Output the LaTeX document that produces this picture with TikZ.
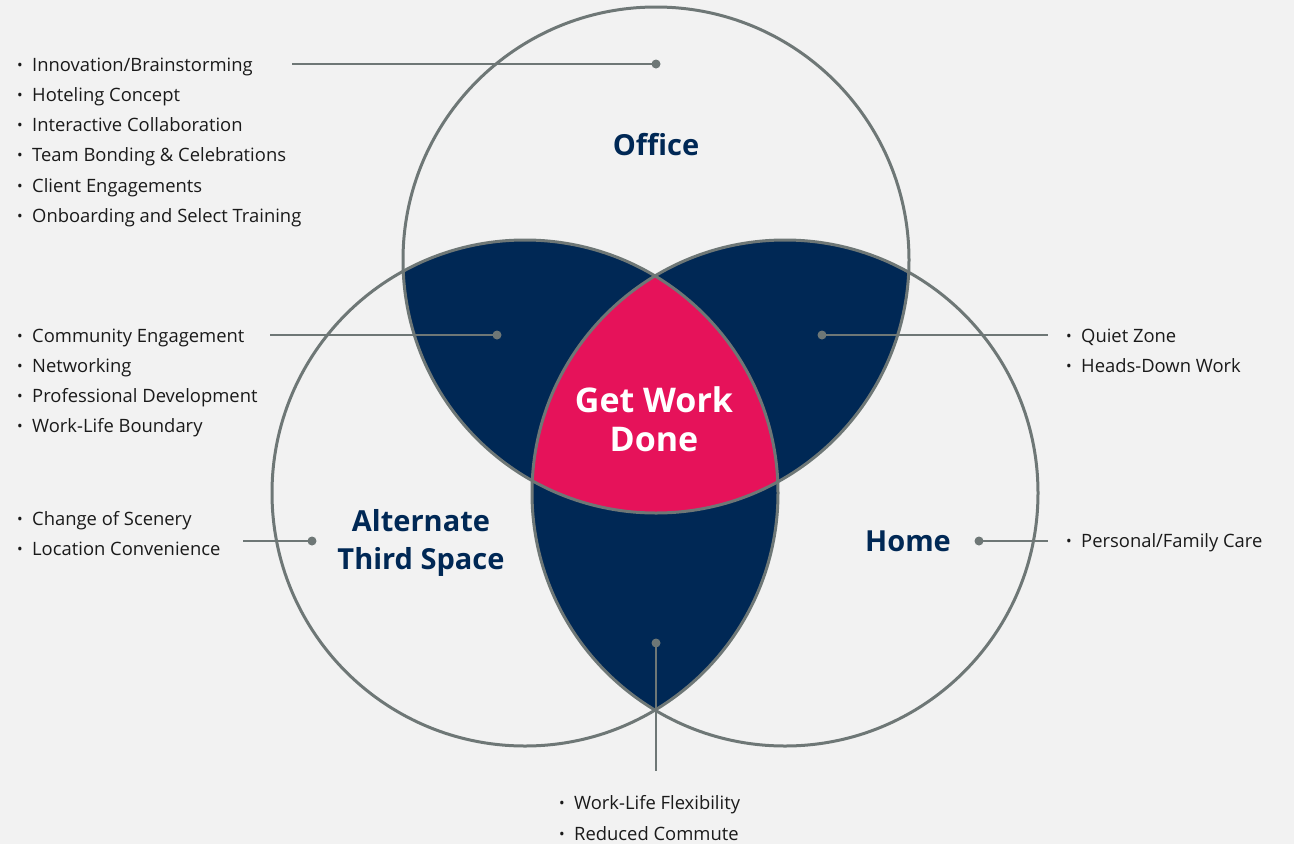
\documentclass[tikz,border=0pt]{standalone}
\usepackage{fontspec}
\setmainfont{Open Sans}
\definecolor{bg}{HTML}{F2F2F2}
\definecolor{navy}{HTML}{002855}
\definecolor{hot}{HTML}{E6125A}
\definecolor{ring}{HTML}{6E7776}
\definecolor{txt}{HTML}{1A1A1A}
\newcommand\blt{\makebox[15pt][l]{\fontsize{15}{15}\selectfont\raisebox{1pt}{•}}}
\begin{document}
\begin{tikzpicture}[x=1pt,y=-1pt,
  item/.style={anchor=base west, inner sep=0pt, text=txt, font=\fontsize{18.4}{20}\selectfont},
  head/.style={anchor=base, inner sep=0pt, text=navy, font=\fontsize{29}{30}\selectfont\bfseries},
  core/.style={anchor=base, inner sep=0pt, text=white, font=\fontsize{34}{36}\selectfont\bfseries},
  circ/.style={draw=ring, line width=3pt},
  lead/.style={draw=ring, line width=2pt},
  dot/.style={circle, fill=ring, inner sep=0pt, minimum size=9pt}]
\fill[bg] (0,0) rectangle (1294,844);
\useasboundingbox (0,0) rectangle (1294,844);
\coordinate (CO) at (656,260);
\coordinate (CA) at (525,493);
\coordinate (CH) at (785,493);
\def\R{253pt}
% pairwise overlaps
\begin{scope}
  \clip (CO) circle[radius=\R];
  \fill[navy] (CA) circle[radius=\R];
  \fill[navy] (CH) circle[radius=\R];
\end{scope}
\begin{scope}
  \clip (CA) circle[radius=\R];
  \fill[navy] (CH) circle[radius=\R];
\end{scope}
% triple overlap
\begin{scope}
  \clip (CO) circle[radius=\R];
  \clip (CA) circle[radius=\R];
  \fill[hot] (CH) circle[radius=\R];
\end{scope}
\draw[circ] (CO) circle[radius=\R];
\draw[circ] (CA) circle[radius=\R];
\draw[circ] (CH) circle[radius=\R];

% headings
\node[head] (office) at (656,155) {Office};
\node[head] (alt1) at (421,531) {Alternate};
\node[head] (alt2) at (421,569) {Third Space};
\node[head] (home) at (908,551) {Home};
\node[core] (gw1) at (654,412) {Get Work};
\node[core] (gw2) at (654,451) {Done};

% lists
\node[item] (o1) at (17,71.5) {\blt Innovation/Brainstorming};
\node[item] (o2) at (17,101.5) {\blt Hoteling Concept};
\node[item] (o3) at (17,131.5) {\blt Interactive Collaboration};
\node[item] (o4) at (17,161.5) {\blt Team Bonding \& Celebrations};
\node[item] (o5) at (17,192) {\blt Client Engagements};
\node[item] (o6) at (17,222) {\blt Onboarding and Select Training};

\node[item] (l1) at (17,342.5) {\blt Community Engagement};
\node[item] (l2) at (17,372.5) {\blt Networking};
\node[item] (l3) at (17,402.5) {\blt Professional Development};
\node[item] (l4) at (17,432.5) {\blt Work-Life Boundary};

\node[item] (a1) at (17,525.5) {\blt Change of Scenery};
\node[item] (a2) at (17,555.5) {\blt Location Convenience};

\node[item] (r1) at (1066,342.5) {\blt Quiet Zone};
\node[item] (r2) at (1066,372.5) {\blt Heads-Down Work};
\node[item] (h1) at (1066,547.5) {\blt Personal/Family Care};

\node[item] (b1) at (559,809.5) {\blt Work-Life Flexibility};
\node[item] (b2) at (559,840) {\blt Reduced Commute};

% connectors
\node[dot] (dO) at (656,64) {};
\node[dot] (dL) at (497,335) {};
\node[dot] (dR) at (822,335) {};
\node[dot] (dA) at (312,541) {};
\node[dot] (dH) at (979,541) {};
\node[dot] (dB) at (656,643) {};
\coordinate (eO) at (292,64);
\coordinate (eL) at (270,335);
\coordinate (eR) at (1048,335);
\coordinate (eA) at (243,541);
\coordinate (eH) at (1048,541);
\coordinate (eB) at (656,771);
\draw[lead] (eO) -- (dO.center);
\draw[lead] (eL) -- (dL.center);
\draw[lead] (dR.center) -- (eR);
\draw[lead] (eA) -- (dA.center);
\draw[lead] (dH.center) -- (eH);
\draw[lead] (dB.center) -- (eB);
\end{tikzpicture}
\end{document}
